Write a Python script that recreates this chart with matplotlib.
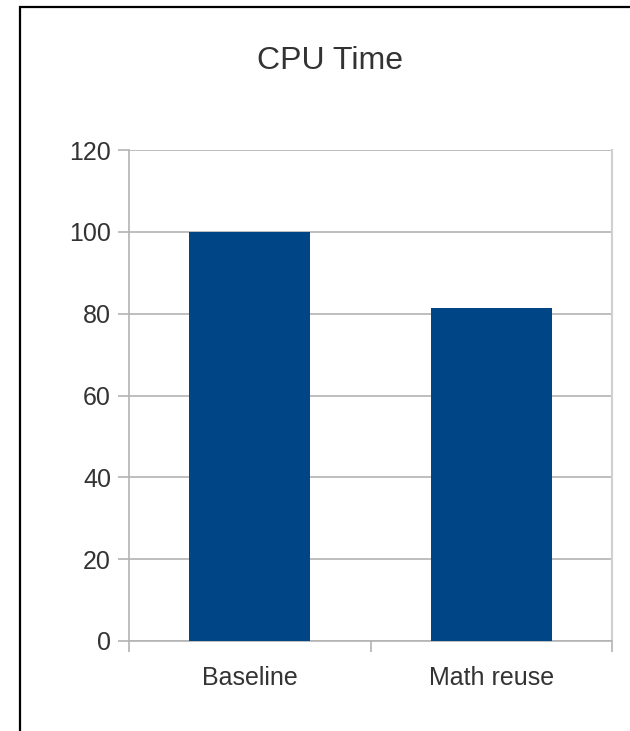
import matplotlib.pyplot as plt
from matplotlib.patches import Rectangle

categories = ['Baseline', 'Math reuse']
cpu_time = [100, 81.4]
y_ticks = [0, 20, 40, 60, 80, 100, 120]

plt.rcParams['font.family'] = ['Liberation Sans', 'DejaVu Sans']

fig = plt.figure(figsize=(6.3, 7.31), dpi=100)
ax = fig.add_axes([129 / 630, 90 / 731, 483 / 630, 491 / 731])

grid_col = '#b3b3b3'
text_col = '#333333'

x = list(range(len(categories)))
ax.bar(x, cpu_time, width=0.5, color='#004586', zorder=3)

ax.set_xlim(-0.5, len(categories) - 0.5)
ax.set_ylim(0, 120)
ax.set_yticks(y_ticks)
ax.set_xticks(x)
ax.set_xticklabels(categories)
ax.set_xticks([i - 0.5 for i in range(len(categories) + 1)], minor=True)

ax.yaxis.grid(True, color=grid_col, linewidth=1.2, zorder=0)
ax.tick_params(axis='y', direction='out', length=8, width=1.2, color=grid_col,
               labelsize=18, labelcolor=text_col, pad=5)
ax.tick_params(axis='x', which='major', length=0, labelsize=18,
               labelcolor=text_col, pad=18)
ax.tick_params(axis='x', which='minor', direction='out', length=8, width=1.2,
               color=grid_col)

ax.spines['top'].set_visible(False)
for s in ['left', 'bottom']:
    ax.spines[s].set_color(grid_col)
    ax.spines[s].set_linewidth(1.2)
ax.spines['right'].set_color('#d0d0d0')
ax.spines['right'].set_linewidth(1.5)

fig.text(330 / 630, 1 - 61 / 731, 'CPU Time', ha='center', va='center',
         fontsize=23, color=text_col)

# outer frame of the chart, clipped at the right and bottom
fig.patches.append(Rectangle((20 / 630, -0.1), 1.2, 1 - 7 / 731 + 0.1,
                             transform=fig.transFigure, fill=False,
                             edgecolor='black', linewidth=1.6))

fig.savefig('out.png', dpi=100)
